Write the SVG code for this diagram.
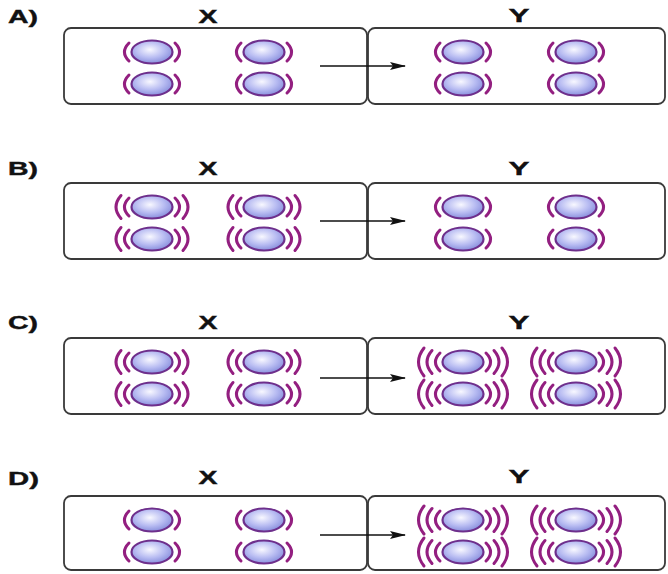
<svg xmlns="http://www.w3.org/2000/svg" xmlns:xlink="http://www.w3.org/1999/xlink" width="668" height="574" viewBox="0 0 668 574">
  <style>
    .box { fill: #ffffff; stroke: #3a3a3a; stroke-width: 1.8; }
    .lbl { font-family: "Liberation Sans", Arial, sans-serif; font-weight: bold; font-size: 19px; fill: #111111; stroke: #111111; stroke-width: 0.4; }
    .mid { text-anchor: middle; }
    .wave { fill: none; stroke: #931f80; stroke-width: 3; stroke-linecap: round; }
    .arrow { stroke: #111111; stroke-width: 1.4; fill: none; }
  </style>
  <defs>
    <radialGradient id="shine" cx="0.45" cy="0.4" r="0.7">
      <stop offset="0" stop-color="#f8f8ff"/>
      <stop offset="0.5" stop-color="#b8bcf2"/>
      <stop offset="1" stop-color="#767ed4"/>
    </radialGradient>
    <ellipse id="core" rx="20.5" ry="11.5" fill="url(#shine)" stroke="#6e2f8c" stroke-width="2.2"/>
    <!-- vibration arcs: one, two or three on each side -->
    <g id="w1">
      <path class="wave" d="M-23,-9 Q-32,0 -23,9"/>
      <path class="wave" d="M23,-9 Q32,0 23,9"/>
    </g>
    <g id="w2">
      <use xlink:href="#w1"/>
      <path class="wave" d="M-31,-11.5 Q-41,0 -31,11.5"/>
      <path class="wave" d="M31,-11.5 Q41,0 31,11.5"/>
    </g>
    <g id="w3">
      <use xlink:href="#w2"/>
      <path class="wave" d="M-39,-14 Q-50,0 -39,14"/>
      <path class="wave" d="M39,-14 Q50,0 39,14"/>
    </g>
    <marker id="head" markerUnits="userSpaceOnUse" markerWidth="16" markerHeight="10" refX="15" refY="5" orient="auto">
      <path d="M0,1 L16,5 L0,9 L3,5 Z" fill="#111111"/>
    </marker>
  </defs>

  <!-- panel A -->
  <g id="labelA">
    <text class="lbl" x="8" y="23" textLength="30" lengthAdjust="spacingAndGlyphs">A)</text>
    <text class="lbl mid" x="208" y="23" textLength="19" lengthAdjust="spacingAndGlyphs">X</text>
    <text class="lbl mid" x="519" y="22" textLength="21" lengthAdjust="spacingAndGlyphs">Y</text>
  </g>
  <g id="boxAX">
    <rect class="box" x="64" y="28" width="303" height="76" rx="7"/>
    <use xlink:href="#w1" x="152" y="52"/><use xlink:href="#core" x="152" y="52"/>
    <use xlink:href="#w1" x="264" y="52"/><use xlink:href="#core" x="264" y="52"/>
    <use xlink:href="#w1" x="152" y="84"/><use xlink:href="#core" x="152" y="84"/>
    <use xlink:href="#w1" x="264" y="84"/><use xlink:href="#core" x="264" y="84"/>
  </g>
  <g id="boxAY">
    <rect class="box" x="368" y="28" width="297" height="76" rx="7"/>
    <use xlink:href="#w1" x="463" y="52"/><use xlink:href="#core" x="463" y="52"/>
    <use xlink:href="#w1" x="576" y="52"/><use xlink:href="#core" x="576" y="52"/>
    <use xlink:href="#w1" x="463" y="84"/><use xlink:href="#core" x="463" y="84"/>
    <use xlink:href="#w1" x="576" y="84"/><use xlink:href="#core" x="576" y="84"/>
  </g>

  <!-- panel B -->
  <g id="labelB">
    <text class="lbl" x="8" y="175" textLength="30" lengthAdjust="spacingAndGlyphs">B)</text>
    <text class="lbl mid" x="208" y="175" textLength="19" lengthAdjust="spacingAndGlyphs">X</text>
    <text class="lbl mid" x="519" y="175" textLength="21" lengthAdjust="spacingAndGlyphs">Y</text>
  </g>
  <g id="boxBX">
    <rect class="box" x="64" y="183" width="303" height="76" rx="7"/>
    <use xlink:href="#w2" x="152" y="207"/><use xlink:href="#core" x="152" y="207"/>
    <use xlink:href="#w2" x="264" y="207"/><use xlink:href="#core" x="264" y="207"/>
    <use xlink:href="#w2" x="152" y="239"/><use xlink:href="#core" x="152" y="239"/>
    <use xlink:href="#w2" x="264" y="239"/><use xlink:href="#core" x="264" y="239"/>
  </g>
  <g id="boxBY">
    <rect class="box" x="368" y="183" width="297" height="76" rx="7"/>
    <use xlink:href="#w1" x="463" y="207"/><use xlink:href="#core" x="463" y="207"/>
    <use xlink:href="#w1" x="576" y="207"/><use xlink:href="#core" x="576" y="207"/>
    <use xlink:href="#w1" x="463" y="239"/><use xlink:href="#core" x="463" y="239"/>
    <use xlink:href="#w1" x="576" y="239"/><use xlink:href="#core" x="576" y="239"/>
  </g>

  <!-- panel C -->
  <g id="labelC">
    <text class="lbl" x="8" y="329" textLength="30" lengthAdjust="spacingAndGlyphs">C)</text>
    <text class="lbl mid" x="208" y="329" textLength="19" lengthAdjust="spacingAndGlyphs">X</text>
    <text class="lbl mid" x="519" y="329" textLength="21" lengthAdjust="spacingAndGlyphs">Y</text>
  </g>
  <g id="boxCX">
    <rect class="box" x="64" y="338" width="303" height="76" rx="7"/>
    <use xlink:href="#w2" x="152" y="362"/><use xlink:href="#core" x="152" y="362"/>
    <use xlink:href="#w2" x="264" y="362"/><use xlink:href="#core" x="264" y="362"/>
    <use xlink:href="#w2" x="152" y="394"/><use xlink:href="#core" x="152" y="394"/>
    <use xlink:href="#w2" x="264" y="394"/><use xlink:href="#core" x="264" y="394"/>
  </g>
  <g id="boxCY">
    <rect class="box" x="368" y="338" width="297" height="76" rx="7"/>
    <use xlink:href="#w3" x="463" y="362"/><use xlink:href="#core" x="463" y="362"/>
    <use xlink:href="#w3" x="576" y="362"/><use xlink:href="#core" x="576" y="362"/>
    <use xlink:href="#w3" x="463" y="394"/><use xlink:href="#core" x="463" y="394"/>
    <use xlink:href="#w3" x="576" y="394"/><use xlink:href="#core" x="576" y="394"/>
  </g>

  <!-- panel D -->
  <g id="labelD">
    <text class="lbl" x="8" y="485" textLength="31" lengthAdjust="spacingAndGlyphs">D)</text>
    <text class="lbl mid" x="208" y="484" textLength="19" lengthAdjust="spacingAndGlyphs">X</text>
    <text class="lbl mid" x="519" y="483" textLength="21" lengthAdjust="spacingAndGlyphs">Y</text>
  </g>
  <g id="boxDX">
    <rect class="box" x="64" y="496" width="303" height="74" rx="7"/>
    <use xlink:href="#w1" x="152" y="520"/><use xlink:href="#core" x="152" y="520"/>
    <use xlink:href="#w1" x="264" y="520"/><use xlink:href="#core" x="264" y="520"/>
    <use xlink:href="#w1" x="152" y="552"/><use xlink:href="#core" x="152" y="552"/>
    <use xlink:href="#w1" x="264" y="552"/><use xlink:href="#core" x="264" y="552"/>
  </g>
  <g id="boxDY">
    <rect class="box" x="368" y="496" width="297" height="74" rx="7"/>
    <use xlink:href="#w3" x="463" y="520"/><use xlink:href="#core" x="463" y="520"/>
    <use xlink:href="#w3" x="576" y="520"/><use xlink:href="#core" x="576" y="520"/>
    <use xlink:href="#w3" x="463" y="552"/><use xlink:href="#core" x="463" y="552"/>
    <use xlink:href="#w3" x="576" y="552"/><use xlink:href="#core" x="576" y="552"/>
  </g>

  <!-- connectors: X to Y arrows -->
  <g id="connectors">
    <line class="arrow" x1="320" y1="66" x2="405" y2="66" marker-end="url(#head)"/>
    <line class="arrow" x1="320" y1="221" x2="405" y2="221" marker-end="url(#head)"/>
    <line class="arrow" x1="320" y1="378" x2="405" y2="378" marker-end="url(#head)"/>
    <line class="arrow" x1="320" y1="535" x2="405" y2="535" marker-end="url(#head)"/>
  </g>
</svg>
